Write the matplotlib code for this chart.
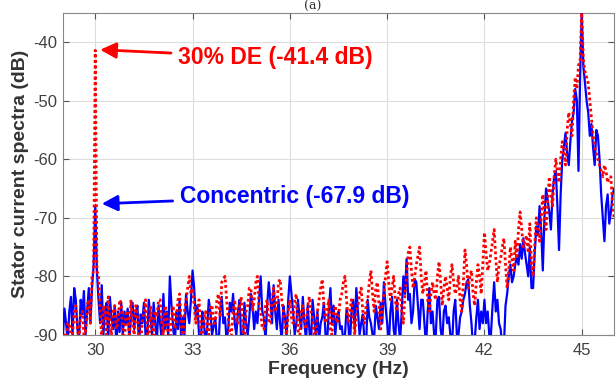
import numpy as np
import matplotlib.pyplot as plt

# frequency grid, 0.05 Hz steps from 29 to 46 Hz
freq = np.round(np.arange(29.0, 46.025, 0.05), 2)

# Concentric rotor (blue, solid) - one row per Hz
concentric = [
    -90.5, -85.5, -88, -91, -86, -83.5, -90, -82, -84, -89, -91, -84, -86.5, -82.5, -90, -86, -82, -88, -82, -78,
    -67.9, -79, -84, -88, -81.5, -90, -86, -84.5, -91, -83.5, -87, -89, -85, -92, -86, -89.5, -84.5, -90, -86, -88,
    -85.5, -91, -87, -84.5, -89, -86, -85, -92, -86.5, -88, -84.5, -90, -91, -84, -87, -90, -84.5, -88, -91, -85,
    -88, -91, -83, -89, -86, -90, -80, -85, -88.5, -92, -86, -89, -84, -91, -87, -90, -83, -86, -88, -84,
    -79, -82, -87, -85, -90, -92, -86, -88, -91, -89, -84, -86, -90, -88.5, -87, -91, -92, -86, -83.5, -88,
    -87, -91, -89, -84.5, -86, -83, -88, -90, -86, -84, -91, -92, -84.5, -88, -90, -87, -83, -85, -89, -86,
    -88, -84, -80, -86, -87, -91, -85, -81, -84, -88, -81.5, -86, -89, -84, -88, -91, -85, -87, -90, -84,
    -80, -83, -86, -90, -88, -84, -87, -89, -83.5, -88, -91, -85, -89, -92, -84, -87, -90, -86, -91, -88,
    -87, -84.5, -90, -91, -86, -82, -88, -85, -90, -87, -86, -89, -88.5, -91, -90, -85.5, -88, -92, -86, -84,
    -89, -82, -86, -90, -88, -86.5, -91, -92, -84, -87, -88, -90, -90.5, -85, -87, -89, -84.5, -88, -81, -85,
    -88, -92, -86, -83.5, -89, -91, -84, -88, -91, -86, -80, -83, -77, -84, -83, -88, -86, -80.5, -81, -85,
    -89, -84, -84, -88, -92, -86, -82, -88, -86, -90, -90, -84, -83.5, -89, -91, -86, -85, -88, -87, -90,
    -92, -86, -84, -90, -90, -87, -86, -84, -83, -81, -80.5, -85, -88, -92, -91, -87, -84, -89, -86, -88,
    -84, -88, -86, -90, -90, -85, -81, -86, -84, -88, -89, -92, -92, -85, -83, -80, -78, -81, -80, -78,
    -76.5, -78, -74.5, -77, -73.5, -76, -78, -80, -75, -82, -82, -76, -71.5, -73, -68, -72, -79, -70, -65, -67,
    -69, -72, -66, -63, -62, -68, -75.5, -66, -60, -58, -55.5, -59, -61, -57, -53.5, -52, -48, -50, -62, -46,
    -35, -44, -47, -50, -52, -56, -54, -58, -61, -55, -56, -60, -66, -70, -74, -68, -66, -71, -69, -66,
    -65,
]

# 30% dynamic eccentricity (red, dotted) - one row per Hz
eccentric = [
    -92, -90, -91, -88, -88, -91, -90, -86, -85, -89, -91, -86, -86, -90, -89.5, -85, -84, -88, -80, -79,
    -41.4, -79, -80, -86, -91, -85, -86, -90, -83.5, -88, -90, -86, -85, -89, -88, -84, -84.5, -90, -91, -86,
    -86, -90, -84, -88, -90, -85, -87, -91, -92, -87, -86.5, -84, -89, -92, -85, -88, -91, -86, -87, -84,
    -84, -88, -90, -85, -86, -91, -92, -87, -85, -89, -88, -84, -83, -88, -91, -86, -84, -82, -80, -83,
    -82, -85, -88, -86, -84, -90, -91, -87, -86, -89, -90, -85, -85, -88, -88, -84, -83, -87, -81, -80.5,
    -80, -84, -87, -90, -90, -86, -84, -88, -88, -85, -83.5, -89, -91, -86, -85, -82, -82, -86, -84, -81,
    -80, -85, -86, -89, -89, -85, -84, -88, -88, -84, -82, -86, -85, -81, -80.5, -84, -86, -89, -90, -86,
    -84, -87, -88, -84, -83, -89, -91, -86, -85, -88, -89, -85, -83.5, -86, -87, -90, -90, -86, -84, -82,
    -80.5, -85, -88, -86, -84, -89, -90, -86, -85, -88, -87, -84, -83, -81, -80, -84, -88, -86, -84, -87,
    -90, -86, -85, -83, -82, -86, -88, -85, -84, -81, -79, -83, -86, -82, -81, -85, -89, -85, -83, -80,
    -77.5, -81, -84, -82, -80, -84, -86, -83, -82, -86, -88, -83, -80, -76, -75, -79, -82, -80, -78, -76.5,
    -75, -80, -83, -81, -79, -84, -86, -83, -81, -83, -84, -80, -77.5, -81, -85, -82, -80, -82, -84, -80,
    -78, -81, -83, -82, -80, -84, -86, -81, -75.5, -78, -82, -80, -79, -83, -85, -81, -78, -80, -83, -78,
    -72.5, -76, -79, -78, -76, -74, -72, -77, -81, -78, -77, -75, -73.5, -78, -82, -79, -75, -77, -79, -74,
    -77, -72, -69, -72, -75, -74, -73, -76, -71, -78, -80, -75, -70, -72, -74, -70, -66, -69, -72, -67,
    -63, -66, -68, -63, -60, -62, -64, -60, -57, -59, -61, -55, -52, -54, -56, -50, -46, -48, -44, -43,
    -35, -43, -45, -46, -47, -50, -53, -56, -58, -59, -60, -61, -62, -63, -61, -62, -64, -63, -63, -68,
    -70,
]

xticks = [30, 33, 36, 39, 42, 45]
yticks = [-90, -80, -70, -60, -50, -40]

plt.rcParams["font.family"] = ["Liberation Sans", "DejaVu Sans"]
plt.rcParams["axes.unicode_minus"] = False

fig = plt.figure(figsize=(6.16, 3.89), dpi=100)
ax = fig.add_axes([0.102, 0.139, 0.895, 0.828])

ax.plot(freq, concentric, color="#0000ff", lw=1.6, zorder=3)
ax.plot(freq, eccentric, color="#ff0000", lw=2.0, ls=(0, (1, 1)), zorder=4)

ax.set_xlim(29, 46)
ax.set_ylim(-90, -35)
ax.set_xticks(xticks)
ax.set_yticks(yticks)
ax.tick_params(direction="in", top=True, right=True, labelsize=12,
               labelcolor="#404040", color="#555555", length=4)
ax.tick_params(axis="x", pad=6)
ax.tick_params(axis="y", pad=4)
ax.grid(True, color="#dddddd", lw=0.8)
ax.set_axisbelow(True)
for s in ax.spines.values():
    s.set_color("#888888")

ax.set_xlabel("Frequency (Hz)", fontsize=14, fontweight="bold", color="#333333", labelpad=2)
ax.set_ylabel("Stator current spectra (dB)", fontsize=14, fontweight="bold", color="#333333", labelpad=3)

ax.annotate("30% DE (-41.4 dB)", xy=(30.15, -41.3), xytext=(32.55, -42.7),
            color="#ff0000", fontsize=16.5, fontweight="bold", va="center",
            arrowprops=dict(arrowstyle="-|>", color="#ff0000", lw=2, mutation_scale=24,
                            shrinkA=3, shrinkB=0))
ax.annotate("Concentric (-67.9 dB)", xy=(30.2, -67.6), xytext=(32.6, -66.3),
            color="#0000ff", fontsize=16.5, fontweight="bold", va="center",
            arrowprops=dict(arrowstyle="-|>", color="#0000ff", lw=2, mutation_scale=24,
                            shrinkA=3, shrinkB=0))

fig.text(0.508, 1.0, "(a)", fontsize=9, family="serif", ha="center", va="top", color="#333333")

fig.savefig("out.png", dpi=100)
